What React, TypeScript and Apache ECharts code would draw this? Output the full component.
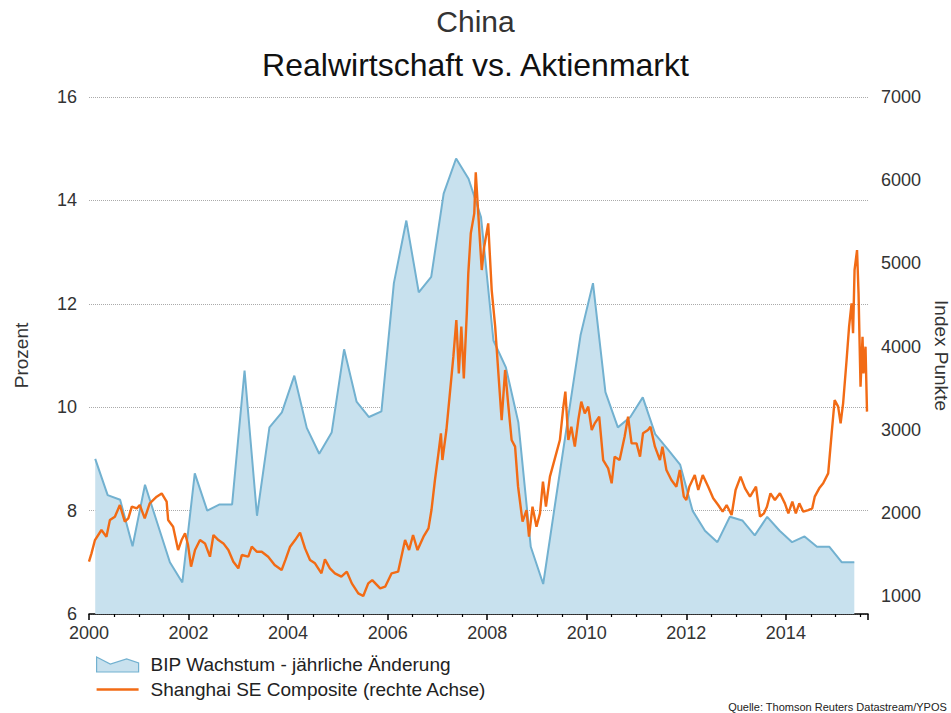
import React, { useEffect, useRef } from "react";
import * as echarts from "echarts";

// China GDP growth, year-on-year in %, one value per quarter from Q1 2000 to Q2 2015.
// Each value is plotted in the middle of its quarter.
const GDP_FIRST_QUARTER_MID = 2000.125;
const GDP_QUARTER_STEP = 0.25;
const GDP_GROWTH = [
  9.0, 8.3, 8.21, 7.31, 8.5, 7.75, 7.0, 6.61, 8.72, 8.0, 8.12, 8.12, 10.71, 7.9,
  9.61, 9.9, 10.61, 9.6, 9.1, 9.51, 11.12, 10.11, 9.81, 9.92, 12.4, 13.61, 12.22,
  12.52, 14.13, 14.81, 14.42, 13.68, 11.29, 10.77, 9.71, 7.3, 6.58, 8.2, 9.8,
  11.39, 12.4, 10.29, 9.61, 9.81, 10.19, 9.48, 9.19, 8.89, 8.0, 7.61, 7.39, 7.88,
  7.81, 7.52, 7.88, 7.61, 7.39, 7.5, 7.3, 7.3, 7.0, 7.0,
];

// Shanghai SE Composite index (points), dates as decimal years.
const SSE_TIME = [
  2000.0, 2000.05, 2000.12, 2000.25, 2000.35, 2000.42, 2000.52, 2000.62, 2000.72,
  2000.79, 2000.86, 2000.96, 2001.02, 2001.12, 2001.22, 2001.36, 2001.46, 2001.56,
  2001.59, 2001.69, 2001.79, 2001.86, 2001.93, 2001.99, 2002.05, 2002.13, 2002.23,
  2002.33, 2002.43, 2002.5, 2002.6, 2002.7, 2002.8, 2002.9, 2003.0, 2003.07,
  2003.2, 2003.27, 2003.37, 2003.47, 2003.6, 2003.73, 2003.87, 2003.95, 2004.04,
  2004.14, 2004.24, 2004.34, 2004.44, 2004.54, 2004.67, 2004.74, 2004.84, 2004.94,
  2005.07, 2005.18, 2005.28, 2005.41, 2005.51, 2005.61, 2005.69, 2005.85, 2005.95,
  2006.08, 2006.21, 2006.35, 2006.43, 2006.51, 2006.6, 2006.72, 2006.82, 2006.88,
  2006.95, 2007.02, 2007.07, 2007.1, 2007.18, 2007.25, 2007.32, 2007.38, 2007.43,
  2007.48, 2007.53, 2007.59, 2007.62, 2007.67, 2007.74, 2007.77, 2007.82, 2007.89,
  2007.94, 2008.02, 2008.09, 2008.16, 2008.22, 2008.29, 2008.36, 2008.42, 2008.49,
  2008.56, 2008.62, 2008.71, 2008.79, 2008.84, 2008.91, 2008.99, 2009.06, 2009.12,
  2009.18, 2009.26, 2009.36, 2009.46, 2009.53, 2009.57, 2009.63, 2009.69, 2009.76,
  2009.83, 2009.89, 2009.96, 2010.03, 2010.1, 2010.16, 2010.25, 2010.33, 2010.43,
  2010.5, 2010.56, 2010.66, 2010.76, 2010.83, 2010.9, 2011.0, 2011.07, 2011.13,
  2011.23, 2011.28, 2011.37, 2011.47, 2011.52, 2011.6, 2011.7, 2011.8, 2011.87,
  2011.95, 2012.0, 2012.06, 2012.17, 2012.24, 2012.33, 2012.44, 2012.54, 2012.64,
  2012.73, 2012.81, 2012.91, 2012.99, 2013.09, 2013.18, 2013.28, 2013.4, 2013.48,
  2013.56, 2013.62, 2013.69, 2013.78, 2013.88, 2013.98, 2014.05, 2014.13, 2014.2,
  2014.27, 2014.35, 2014.45, 2014.53, 2014.58, 2014.67, 2014.75, 2014.85, 2014.92,
  2014.98, 2015.05, 2015.1, 2015.15, 2015.22, 2015.27, 2015.32, 2015.35, 2015.38,
  2015.43, 2015.46, 2015.5, 2015.54, 2015.56, 2015.6, 2015.63,
];
const SSE_INDEX = [
  1413, 1513, 1673, 1794, 1713, 1914, 1954, 2094, 1894,
  1934, 2074, 2054, 2094, 1934, 2114, 2194, 2234, 2134,
  1914, 1834, 1553, 1673, 1754, 1613, 1353, 1553, 1673,
  1633, 1473, 1734, 1673, 1633, 1553, 1413, 1333, 1493,
  1473, 1593, 1533, 1533, 1473, 1373, 1313, 1440, 1593,
  1673, 1762, 1573, 1433, 1393, 1273, 1441, 1333, 1273,
  1233, 1293, 1152, 1032, 1000, 1152, 1192, 1092, 1112,
  1273, 1293, 1673, 1553, 1734, 1553, 1713, 1814, 2034,
  2395, 2715, 2956, 2635, 2996, 3437, 3878, 4319, 3677,
  4239, 3617, 4399, 4880, 5361, 5601, 6094, 5601, 4920,
  5200, 5481, 4679, 4239, 3718, 3116, 3718, 3317, 2876,
  2796, 2315, 1894, 2034, 1714, 2074, 1834, 1994, 2375,
  2074, 2435, 2655, 2876, 3277, 3457, 2876, 3036, 2796,
  3116, 3337, 3196, 3277, 2996, 3076, 3156, 2635, 2535,
  2355, 2675, 2635, 2916, 3156, 2836, 2836, 2675, 2956,
  2996, 3036, 2796, 2635, 2796, 2515, 2395, 2315, 2515,
  2195, 2155, 2315, 2455, 2275, 2455, 2315, 2175, 2094,
  2014, 2094, 1974, 2275, 2435, 2295, 2195, 2315, 1954,
  1994, 2074, 2235, 2155, 2235, 2114, 1994, 2134, 1994,
  2114, 2014, 2034, 2054, 2195, 2295, 2355, 2475, 2956,
  3357, 3277, 3076, 3317, 3838, 4239, 4519, 4159, 4920,
  5160, 4640, 3517, 4118, 3677, 3998, 3217,
];

const GDP_NAME = "BIP Wachstum - jährliche Änderung";
const SSE_NAME = "Shanghai SE Composite (rechte Achse)";

const FONT = "'Liberation Sans', Arial, sans-serif";
const BLUE_LINE = "#72b1d0";
const BLUE_FILL = "#c8e1ee";
const ORANGE = "#f26b15";

export default function App() {
  const ref = useRef<HTMLDivElement>(null);

  useEffect(() => {
    if (!ref.current) return;
    const chart = echarts.init(ref.current, undefined, { renderer: "svg" });

    const gdpData = GDP_GROWTH.map((v, i) => [
      GDP_FIRST_QUARTER_MID + i * GDP_QUARTER_STEP,
      v,
    ]);
    const sseData = SSE_TIME.map((t, i) => [t, SSE_INDEX[i]]);

    chart.setOption({
      animation: false,
      textStyle: { fontFamily: FONT },
      title: [
        {
          text: "China",
          left: "center",
          top: 1,
          textStyle: { fontSize: 30, fontWeight: "normal", color: "#333", fontFamily: FONT },
        },
        {
          text: "Realwirtschaft vs. Aktienmarkt",
          left: "center",
          top: 44,
          textStyle: { fontSize: 32, fontWeight: "normal", color: "#111", fontFamily: FONT },
        },
      ],
      grid: {
        left: 89,
        right: 83,
        top: 97,
        bottom: 99,
        containLabel: false,
        outerBoundsMode: "none",
      },
      legend: {
        orient: "vertical",
        left: 96,
        top: 655,
        padding: 0,
        itemWidth: 42,
        itemHeight: 15,
        itemGap: 6,
        textStyle: { fontSize: 19, color: "#222", fontFamily: FONT, padding: [0, 0, 0, 7] },
        data: [
          {
            name: GDP_NAME,
            icon: "path://M0,0 L13.7,7 L30,2 L42,6 L42,15 L0,15 Z",
            itemStyle: { color: BLUE_FILL, borderColor: BLUE_LINE, borderWidth: 1.2 },
          },
          {
            name: SSE_NAME,
            icon: "path://M0,0 L42,0 L42,2.4 L0,2.4 Z",
            itemStyle: { color: ORANGE },
          },
        ],
      },
      xAxis: {
        type: "value",
        min: 2000,
        max: 2015.65,
        interval: 2,
        axisLine: { show: true, lineStyle: { color: "#000", width: 1.5 } },
        axisTick: { show: true, length: 6, lineStyle: { color: "#000", width: 1.5 } },
        minorTick: { show: true, splitNumber: 4, length: 3, lineStyle: { color: "#000", width: 1.2 } },
        axisLabel: {
          fontSize: 18,
          color: "#333",
          margin: 10,
          showMaxLabel: false,
          formatter: (v: number) => (Math.abs(v - Math.round(v)) < 1e-6 ? String(Math.round(v)) : ""),
        },
        splitLine: { show: false },
      },
      yAxis: [
        {
          type: "value",
          min: 6,
          max: 16,
          interval: 2,
          name: "Prozent",
          nameLocation: "middle",
          nameGap: 58,
          nameTextStyle: { fontSize: 19, color: "#333", fontFamily: FONT },
          axisLine: { show: false },
          axisTick: { show: false },
          axisLabel: { fontSize: 18, color: "#333", margin: 12 },
          splitLine: {
            show: true,
            lineStyle: { type: "dotted", color: "#aaa", width: 1 },
          },
        },
        {
          type: "value",
          position: "right",
          min: 784,
          max: 7000,
          splitNumber: 6,
          name: "Index Punkte",
          nameLocation: "middle",
          nameRotate: -90,
          nameGap: 54,
          nameTextStyle: { fontSize: 19, color: "#333", fontFamily: FONT },
          axisLine: { show: false },
          axisTick: { show: false },
          axisLabel: {
            fontSize: 18,
            color: "#333",
            margin: 13,
            formatter: (v: number) => (v % 1000 === 0 ? String(v) : ""),
          },
          splitLine: { show: false },
        },
      ],
      series: [
        {
          name: GDP_NAME,
          type: "line",
          data: gdpData,
          symbol: "none",
          z: 1,
          itemStyle: { color: BLUE_LINE },
          lineStyle: { color: BLUE_LINE, width: 2 },
          areaStyle: { color: BLUE_FILL, opacity: 1, origin: "start" },
        },
        {
          name: SSE_NAME,
          type: "line",
          yAxisIndex: 1,
          data: sseData,
          symbol: "none",
          z: 3,
          itemStyle: { color: ORANGE },
          lineStyle: { color: ORANGE, width: 2.4 },
        },
      ],
      graphic: [
        {
          type: "text",
          right: 4,
          bottom: 1,
          style: {
            text: "Quelle: Thomson Reuters Datastream/YPOS",
            fontSize: 11,
            fill: "#222",
            fontFamily: FONT,
          },
        },
      ],
    });

    return () => chart.dispose();
  }, []);

  return (
    <div
      ref={ref}
      style={{ position: "fixed", left: 0, top: 0, width: 951, height: 713, background: "#fff" }}
    />
  );
}
